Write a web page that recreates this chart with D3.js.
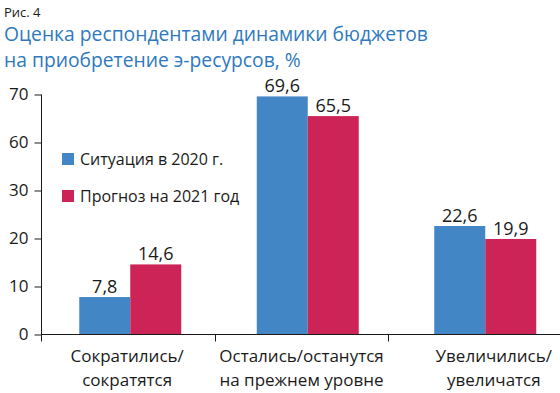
<!DOCTYPE html>
<html lang="ru">
<head>
<meta charset="UTF-8" />
<title>Рис. 4</title>
<script src="https://cdn.jsdelivr.net/npm/d3@7"></script>
<style>
  body { margin: 0; background: #fff; }
  svg text { font-family: "Open Sans", sans-serif; fill: #1a1a1a; }
</style>
</head>
<body>
<script>
// данные
var categories = ["Сократились/\nсократятся", "Остались/останутся\nна прежнем уровне", "Увеличились/\nувеличатся"];
var seriesNames = ["Ситуация в 2020 г.", "Прогноз на 2021 год"];
var values2020 = [7.8, 69.6, 22.6];
var values2021 = [14.6, 65.5, 19.9];
var yTickValues = [0, 10, 20, 30, 60, 70];

var w = 560, h = 393;
var colors = ["#4286c6", "#cc2456"];

var svg = d3.select("body").append("svg")
  .attr("width", w)
  .attr("height", h);

// подпись рисунка и заголовок
svg.append("text").attr("x", 4).attr("y", 17)
  .style("font-size", "13px").text("Рис. 4");
svg.append("text").attr("x", 4).attr("y", 41)
  .style("font-size", "19.3px").style("fill", "#2f79be")
  .text("Оценка респондентами динамики бюджетов");
svg.append("text").attr("x", 4).attr("y", 67)
  .style("font-size", "19.3px").style("fill", "#2f79be")
  .text("на приобретение э-ресурсов, %");

// шкала с разрывом между 30 и 50, как на оригинале
var yScale = d3.scaleLinear()
  .domain([0, 30, 50, 70])
  .range([334.5, 190.5, 190.5, 94.5]);

var xAxisScale = d3.scaleBand()
  .domain(categories)
  .range([41.5, 561.5]);

var x0 = d3.scaleBand()
  .domain(categories)
  .range([41.5, 574])
  .paddingInner(0.4254)
  .paddingOuter(0.2127);

var x1 = d3.scaleBand()
  .domain([0, 1])
  .range([0, x0.bandwidth()]);

var rows = categories.map(function(c, i) {
  return { cat: c, vals: [values2020[i], values2021[i]] };
});

var groups = svg.selectAll("g.grp")
  .data(rows)
  .enter()
  .append("g")
  .attr("class", "grp")
  .attr("transform", function(d) { return "translate(" + x0(d.cat) + ",0)"; });

groups.selectAll("rect")
  .data(function(d) { return d.vals; })
  .enter()
  .append("rect")
  .attr("x", function(d, i) { return x1(i); })
  .attr("y", function(d) { return yScale(d); })
  .attr("width", x1.bandwidth())
  .attr("height", function(d) { return yScale(0) - yScale(d); })
  .attr("fill", function(d, i) { return colors[i]; });

groups.selectAll("text.val")
  .data(function(d) { return d.vals; })
  .enter()
  .append("text")
  .attr("class", "val")
  .attr("x", function(d, i) { return x1(i) + x1.bandwidth() / 2; })
  .attr("y", function(d) { return yScale(d) - 4; })
  .attr("text-anchor", "middle")
  .style("font-size", "18px")
  .text(function(d) { return String(d).replace(".", ","); });

// ось Y
var yAxis = d3.axisLeft(yScale)
  .tickValues(yTickValues)
  .tickSize(7)
  .tickPadding(6);

var gy = svg.append("g")
  .attr("transform", "translate(41.5,0)")
  .call(yAxis);
gy.select(".domain").remove();
gy.selectAll("line").attr("stroke", "#1a1a1a");
gy.selectAll("text").style("font-size", "17px").style("font-family", "Open Sans, sans-serif").attr("fill", "#1a1a1a");

svg.append("line")
  .attr("x1", 41.5).attr("x2", 41.5)
  .attr("y1", yScale(70)).attr("y2", yScale(0) + 7)
  .attr("stroke", "#1a1a1a");

// ось X
svg.append("line")
  .attr("x1", 41.5).attr("x2", w)
  .attr("y1", yScale(0)).attr("y2", yScale(0))
  .attr("stroke", "#1a1a1a");

svg.selectAll("line.xt")
  .data(categories.slice(1))
  .enter()
  .append("line")
  .attr("class", "xt")
  .attr("x1", function(d) { return Math.round(xAxisScale(d)) + 0.5; })
  .attr("x2", function(d) { return Math.round(xAxisScale(d)) + 0.5; })
  .attr("y1", yScale(0))
  .attr("y2", yScale(0) + 7)
  .attr("stroke", "#1a1a1a");

var labelShift = [-1, 0, 19];
svg.selectAll("text.cat")
  .data(categories)
  .enter()
  .append("text")
  .attr("class", "cat")
  .attr("text-anchor", "middle")
  .style("font-size", "17px")
  .each(function(d, i) {
    var cx = xAxisScale(d) + xAxisScale.bandwidth() / 2 + labelShift[i];
    d3.select(this).selectAll("tspan")
      .data(d.split("\n"))
      .enter()
      .append("tspan")
      .attr("x", cx)
      .attr("y", function(t, j) { return 362 + j * 24; })
      .text(function(t) { return t; });
  });

// легенда
var legend = svg.selectAll("g.leg")
  .data(seriesNames)
  .enter()
  .append("g")
  .attr("class", "leg")
  .attr("transform", function(d, i) { return "translate(62," + (153 + i * 37) + ")"; });

legend.append("rect")
  .attr("width", 12)
  .attr("height", 12)
  .attr("fill", function(d, i) { return colors[i]; });

legend.append("text")
  .attr("x", 18)
  .attr("y", 12)
  .style("font-size", "16px")
  .text(function(d) { return d; });
</script>
</body>
</html>
